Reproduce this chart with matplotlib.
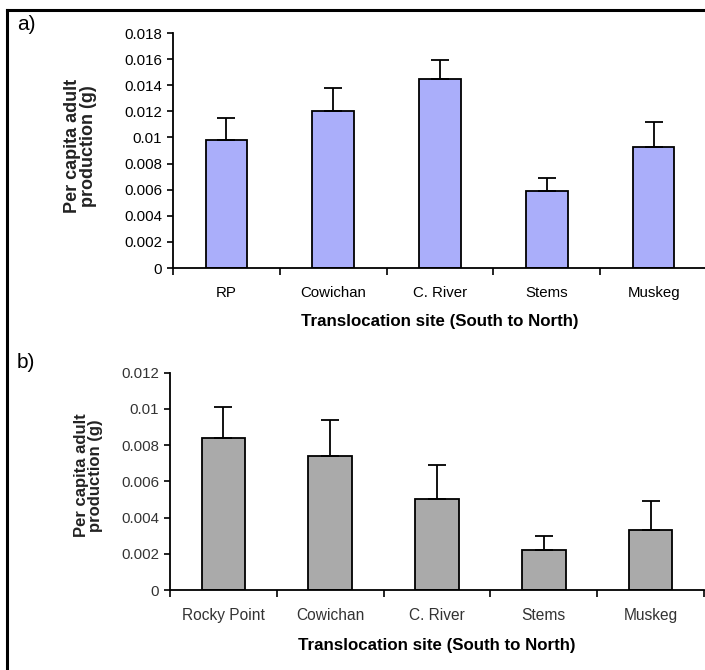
import matplotlib
matplotlib.use('Agg')
import numpy as np
import matplotlib.pyplot as plt
from matplotlib.lines import Line2D

plt.rcParams['font.family'] = ['Liberation Sans', 'DejaVu Sans']

# panel a
sites_a = ['RP', 'Cowichan', 'C. River', 'Stems', 'Muskeg']
prod_a = [0.0098, 0.0120, 0.0145, 0.0059, 0.0093]
err_a = [0.0017, 0.0018, 0.0014, 0.0010, 0.0019]

# panel b
sites_b = ['Rocky Point', 'Cowichan', 'C. River', 'Stems', 'Muskeg']
prod_b = [0.0084, 0.0074, 0.0050, 0.0022, 0.0033]
err_b = [0.0017, 0.0020, 0.0019, 0.0008, 0.0016]

yticks_a = [0, 0.002, 0.004, 0.006, 0.008, 0.01, 0.012, 0.014, 0.016, 0.018]
yticks_b = [0, 0.002, 0.004, 0.006, 0.008, 0.01, 0.012]


def tick_text(v):
    return '0' if v == 0 else f'{v:.3f}'.rstrip('0')


def draw_panel(ax, sites, vals, errs, yticks, color, width, tcolor, xfs, yl_size, yl_pos, xl_pad):
    x = np.arange(len(sites))
    ax.bar(x, vals, width=width, color=color, edgecolor='black', linewidth=1.3, zorder=2)
    ax.errorbar(x, vals, yerr=[np.zeros(len(vals)), errs], fmt='none',
                ecolor='black', elinewidth=1.3, capsize=6.5, capthick=1.3, zorder=3)
    ax.set_xlim(-0.5, len(sites) - 0.5)
    ax.set_ylim(0, yticks[-1])
    ax.set_yticks(yticks)
    ax.set_yticklabels([tick_text(v) for v in yticks], fontsize=10.8, color=tcolor)
    # ticks at category boundaries
    ax.set_xticks(np.arange(len(sites) + 1) - 0.5)
    ax.set_xticklabels([])
    ax.set_xticks(x, minor=True)
    ax.set_xticklabels(sites, minor=True, fontsize=xfs, color=tcolor)
    ax.tick_params(axis='x', which='minor', length=0, pad=13)
    ax.tick_params(axis='x', which='major', length=5, width=1.2, direction='out')
    ax.tick_params(axis='y', length=4, width=1.2, direction='out', pad=4)
    for s in ['top', 'right']:
        ax.spines[s].set_visible(False)
    for s in ['left', 'bottom']:
        ax.spines[s].set_linewidth(1.3)
    ax.set_ylabel('Per capita adult\nproduction (g)', fontsize=yl_size, fontweight='bold',
                  color='#222222', linespacing=0.92)
    ax.yaxis.set_label_coords(*yl_pos)
    ax.set_xlabel('Translocation site (South to North)', fontsize=12.2,
                  fontweight='bold', labelpad=xl_pad)


fig = plt.figure(figsize=(7.05, 6.7), dpi=100)

ax_a = fig.add_axes([173 / 705, 0.600, 534 / 705, 0.3507])
draw_panel(ax_a, sites_a, prod_a, err_a, yticks_a, '#aaaefa', 0.39, 'black',
           10.8, 13, (-0.142, 0.52), 10)

ax_b = fig.add_axes([170 / 705, 0.1194, 534 / 705, 0.3243])
draw_panel(ax_b, sites_b, prod_b, err_b, yticks_b, '#aaaaaa', 0.41, '#333333',
           11.2, 12, (-0.125, 0.527), 11)

fig.text(17 / 705, 1 - 24 / 670, 'a)', fontsize=15, va='center', ha='left')
fig.text(17 / 705, 1 - 362 / 670, 'b)', fontsize=15, va='center', ha='left')

# outer frame (left and top edges)
fig.add_artist(Line2D([7 / 705, 7 / 705], [0, 1 - 10 / 670], color='black', lw=2.2))
fig.add_artist(Line2D([7 / 705, 1], [1 - 10 / 670, 1 - 10 / 670], color='black', lw=2.2))

fig.savefig('out.png', dpi=100)
